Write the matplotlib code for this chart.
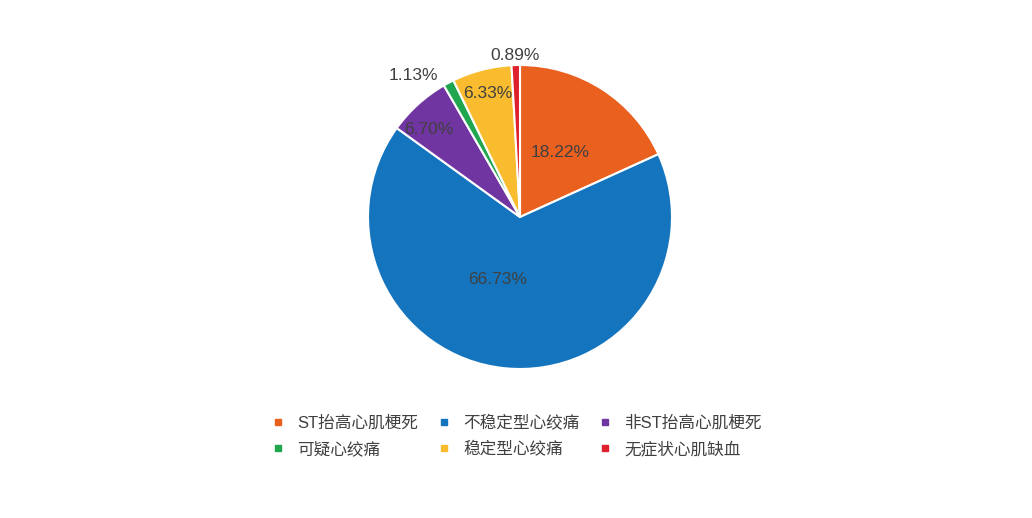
import numpy as np
import matplotlib.pyplot as plt
from matplotlib.lines import Line2D

plt.rcParams['font.family'] = ['Liberation Sans', 'Noto Sans CJK SC', 'DejaVu Sans']

# Data
labels = ['ST抬高心肌梗死', '不稳定型心绞痛', '非ST抬高心肌梗死',
          '可疑心绞痛', '稳定型心绞痛', '无症状心肌缺血']
shares = [18.22, 66.73, 6.70, 1.13, 6.33, 0.89]
colors = ['#E9601F', '#1474BD', '#7135A2', '#21A650', '#F8BC2E', '#DE1F2C']

# label placement (radius as fraction of pie, angle offset in degrees)
label_r = [0.50, 0.44, 0.83, 1.17, 0.84, 1.06]
label_dang = [1, -14, 4, 9, 0, 0]

W, H = 1032, 518
fig = plt.figure(figsize=(W / 100, H / 100), dpi=100)
cx, cy, r = 520, 217, 152
ax = fig.add_axes([(cx - r) / W, (H - cy - r) / H, 2 * r / W, 2 * r / H])

wedges, _ = ax.pie(shares, colors=colors, startangle=90, counterclock=False,
                   radius=1, wedgeprops=dict(edgecolor='white', linewidth=1.5))

for w, val, lr, da in zip(wedges, shares, label_r, label_dang):
    ang = np.deg2rad((w.theta1 + w.theta2) / 2 + da)
    ax.text(lr * np.cos(ang), lr * np.sin(ang), f'{val:.2f}%',
            ha='center', va='center', fontsize=12.5, color='#404040')

ax.set_xlim(-1, 1)
ax.set_ylim(-1, 1)
ax.axis('off')

handles = [Line2D([], [], linestyle='none', marker='s', markersize=4.5,
                  markerfacecolor=c, markeredgecolor=c) for c in colors]
order = [0, 3, 1, 4, 2, 5]
fig.legend([handles[i] for i in order], [labels[i] for i in order],
           loc='center', bbox_to_anchor=(518 / W, 1 - 436 / H), ncol=3,
           frameon=False, fontsize=12, handlelength=0.5, handletextpad=0.9,
           columnspacing=1.3, labelspacing=0.6, labelcolor='#404040')

fig.savefig('out.png', dpi=100, facecolor='white')
